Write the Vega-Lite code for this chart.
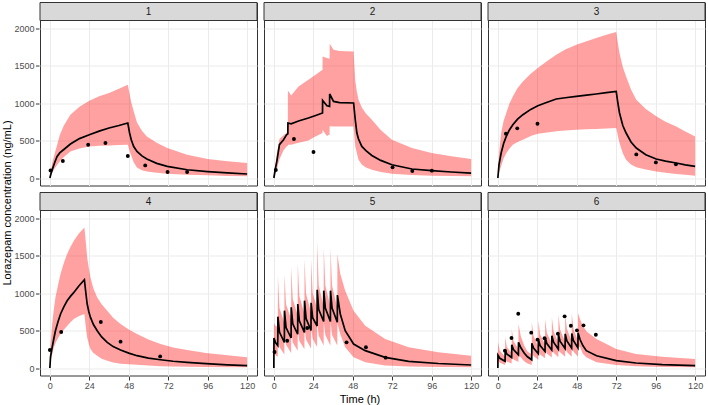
{
  "$schema": "https://vega.github.io/schema/vega-lite/v6.json",
  "padding": {"left": 1, "top": 1.5, "right": 3, "bottom": 2},
  "title": {"text": "Lorazepam concentration (ng/mL)", "orient": "left", "anchor": "middle", "fontSize": 11, "fontWeight": "normal", "color": "#000000", "offset": 1},
  "datasets": {
    "d": [
      {"k":"strip","p":"1"},{"k":"strip","p":"2"},{"k":"strip","p":"3"},{"k":"strip","p":"4"},{"k":"strip","p":"5"},{"k":"strip","p":"6"},

      {"k":"obs","p":"1","t":0.4,"c":101},{"k":"obs","p":"1","t":7.9,"c":227},{"k":"obs","p":"1","t":23.3,"c":444},{"k":"obs","p":"1","t":33.8,"c":467},{"k":"obs","p":"1","t":47.4,"c":293},{"k":"obs","p":"1","t":58,"c":168},{"k":"obs","p":"1","t":71.6,"c":80},{"k":"obs","p":"1","t":83.5,"c":80},
      {"k":"obs","p":"2","t":1.2,"c":107},{"k":"obs","p":"2","t":12.2,"c":520},{"k":"obs","p":"2","t":24.1,"c":347},{"k":"obs","p":"2","t":72.2,"c":142},{"k":"obs","p":"2","t":84.2,"c":93},{"k":"obs","p":"2","t":96.1,"c":98},
      {"k":"obs","p":"3","t":4.9,"c":591},{"k":"obs","p":"3","t":11.8,"c":662},{"k":"obs","p":"3","t":24.1,"c":724},{"k":"obs","p":"3","t":84.2,"c":315},{"k":"obs","p":"3","t":96.1,"c":208},{"k":"obs","p":"3","t":108.3,"c":182},
      {"k":"obs","p":"4","t":0,"c":240},{"k":"obs","p":"4","t":6.9,"c":480},{"k":"obs","p":"4","t":31,"c":613},{"k":"obs","p":"4","t":43,"c":351},{"k":"obs","p":"4","t":67.1,"c":155},
      {"k":"obs","p":"5","t":0.4,"c":213},{"k":"obs","p":"5","t":8.1,"c":364},{"k":"obs","p":"5","t":20.3,"c":533},{"k":"obs","p":"5","t":44.2,"c":342},{"k":"obs","p":"5","t":56,"c":276},{"k":"obs","p":"5","t":68,"c":138},
      {"k":"obs","p":"6","t":4.3,"c":231},{"k":"obs","p":"6","t":8.3,"c":400},{"k":"obs","p":"6","t":12.4,"c":724},{"k":"obs","p":"6","t":20.3,"c":471},{"k":"obs","p":"6","t":24.1,"c":378},{"k":"obs","p":"6","t":28.4,"c":396},{"k":"obs","p":"6","t":36.5,"c":458},{"k":"obs","p":"6","t":40.6,"c":689},{"k":"obs","p":"6","t":44.4,"c":564},{"k":"obs","p":"6","t":48.1,"c":502},{"k":"obs","p":"6","t":52.1,"c":569},{"k":"obs","p":"6","t":59.6,"c":444},

      {"k":"pred","p":"1","t":0,"lo":0,"m":0,"hi":0},
      {"k":"pred","p":"1","t":0.7,"lo":40,"m":60,"hi":110},
      {"k":"pred","p":"1","t":1.5,"lo":75,"m":115,"hi":210},
      {"k":"pred","p":"1","t":3,"lo":130,"m":210,"hi":330},
      {"k":"pred","p":"1","t":4.4,"lo":175,"m":288,"hi":440},
      {"k":"pred","p":"1","t":6,"lo":220,"m":335,"hi":570},
      {"k":"pred","p":"1","t":8.5,"lo":280,"m":380,"hi":700},
      {"k":"pred","p":"1","t":12.5,"lo":355,"m":453,"hi":844},
      {"k":"pred","p":"1","t":18,"lo":395,"m":525,"hi":950},
      {"k":"pred","p":"1","t":24,"lo":421,"m":577,"hi":1031},
      {"k":"pred","p":"1","t":30,"lo":430,"m":625,"hi":1090},
      {"k":"pred","p":"1","t":36,"lo":435,"m":667,"hi":1133},
      {"k":"pred","p":"1","t":42,"lo":440,"m":700,"hi":1190},
      {"k":"pred","p":"1","t":47.4,"lo":444,"m":733,"hi":1244},
      {"k":"pred","p":"1","t":48.5,"lo":360,"m":600,"hi":1120},
      {"k":"pred","p":"1","t":49.5,"lo":300,"m":510,"hi":1010},
      {"k":"pred","p":"1","t":51,"lo":210,"m":420,"hi":890},
      {"k":"pred","p":"1","t":53,"lo":140,"m":355,"hi":740},
      {"k":"pred","p":"1","t":56,"lo":105,"m":295,"hi":630},
      {"k":"pred","p":"1","t":59,"lo":88,"m":253,"hi":555},
      {"k":"pred","p":"1","t":65,"lo":70,"m":195,"hi":470},
      {"k":"pred","p":"1","t":71.4,"lo":57,"m":155,"hi":400},
      {"k":"pred","p":"1","t":83.5,"lo":45,"m":110,"hi":311},
      {"k":"pred","p":"1","t":96,"lo":37,"m":86,"hi":253},
      {"k":"pred","p":"1","t":108,"lo":28,"m":68,"hi":222},
      {"k":"pred","p":"1","t":120,"lo":22,"m":53,"hi":200},

      {"k":"pred","p":"2","t":0,"lo":0,"m":0,"hi":0},
      {"k":"pred","p":"2","t":0.8,"lo":50,"m":110,"hi":150},
      {"k":"pred","p":"2","t":1.8,"lo":110,"m":222,"hi":320},
      {"k":"pred","p":"2","t":3.4,"lo":250,"m":444,"hi":520},
      {"k":"pred","p":"2","t":5.9,"lo":370,"m":511,"hi":570},
      {"k":"pred","p":"2","t":7.7,"lo":421,"m":577,"hi":600},
      {"k":"pred","p":"2","t":8.5,"lo":430,"m":590,"hi":610},
      {"k":"pred","p":"2","t":8.55,"lo":444,"m":733,"hi":1168},
      {"k":"pred","p":"2","t":10.5,"lo":444,"m":722,"hi":1100},
      {"k":"pred","p":"2","t":15,"lo":470,"m":760,"hi":1220},
      {"k":"pred","p":"2","t":21,"lo":500,"m":800,"hi":1311},
      {"k":"pred","p":"2","t":25,"lo":550,"m":830,"hi":1370},
      {"k":"pred","p":"2","t":29.6,"lo":600,"m":867,"hi":1444},
      {"k":"pred","p":"2","t":29.65,"lo":640,"m":1035,"hi":1621},
      {"k":"pred","p":"2","t":32.3,"lo":560,"m":964,"hi":1600},
      {"k":"pred","p":"2","t":33.9,"lo":580,"m":955,"hi":1590},
      {"k":"pred","p":"2","t":33.95,"lo":690,"m":1120,"hi":1791},
      {"k":"pred","p":"2","t":36.3,"lo":688,"m":1021,"hi":1711},
      {"k":"pred","p":"2","t":40,"lo":688,"m":1005,"hi":1695},
      {"k":"pred","p":"2","t":48.5,"lo":688,"m":1000,"hi":1688},
      {"k":"pred","p":"2","t":49.5,"lo":420,"m":780,"hi":1300},
      {"k":"pred","p":"2","t":50.5,"lo":330,"m":600,"hi":1150},
      {"k":"pred","p":"2","t":51.5,"lo":244,"m":520,"hi":1044},
      {"k":"pred","p":"2","t":53.5,"lo":180,"m":421,"hi":940},
      {"k":"pred","p":"2","t":56,"lo":140,"m":365,"hi":860},
      {"k":"pred","p":"2","t":59.6,"lo":110,"m":301,"hi":777},
      {"k":"pred","p":"2","t":65,"lo":80,"m":235,"hi":640},
      {"k":"pred","p":"2","t":71.8,"lo":57,"m":177,"hi":511},
      {"k":"pred","p":"2","t":84,"lo":40,"m":120,"hi":400},
      {"k":"pred","p":"2","t":96,"lo":31,"m":98,"hi":333},
      {"k":"pred","p":"2","t":108,"lo":26,"m":80,"hi":290},
      {"k":"pred","p":"2","t":120,"lo":22,"m":65,"hi":253},

      {"k":"pred","p":"3","t":0,"lo":0,"m":0,"hi":0},
      {"k":"pred","p":"3","t":0.7,"lo":70,"m":180,"hi":330},
      {"k":"pred","p":"3","t":2,"lo":160,"m":333,"hi":600},
      {"k":"pred","p":"3","t":3.5,"lo":260,"m":460,"hi":760},
      {"k":"pred","p":"3","t":5.1,"lo":330,"m":555,"hi":867},
      {"k":"pred","p":"3","t":7,"lo":390,"m":640,"hi":990},
      {"k":"pred","p":"3","t":9.1,"lo":444,"m":711,"hi":1088},
      {"k":"pred","p":"3","t":12,"lo":480,"m":785,"hi":1200},
      {"k":"pred","p":"3","t":15.2,"lo":511,"m":844,"hi":1288},
      {"k":"pred","p":"3","t":20,"lo":560,"m":915,"hi":1390},
      {"k":"pred","p":"3","t":24.3,"lo":591,"m":964,"hi":1467},
      {"k":"pred","p":"3","t":30,"lo":608,"m":1010,"hi":1560},
      {"k":"pred","p":"3","t":35.5,"lo":622,"m":1053,"hi":1644},
      {"k":"pred","p":"3","t":41,"lo":633,"m":1070,"hi":1715},
      {"k":"pred","p":"3","t":47.7,"lo":644,"m":1088,"hi":1777},
      {"k":"pred","p":"3","t":54,"lo":650,"m":1105,"hi":1825},
      {"k":"pred","p":"3","t":59.8,"lo":653,"m":1120,"hi":1866},
      {"k":"pred","p":"3","t":66,"lo":660,"m":1138,"hi":1910},
      {"k":"pred","p":"3","t":72,"lo":667,"m":1155,"hi":1946},
      {"k":"pred","p":"3","t":73,"lo":560,"m":1000,"hi":1800},
      {"k":"pred","p":"3","t":74,"lo":467,"m":867,"hi":1666},
      {"k":"pred","p":"3","t":76,"lo":330,"m":700,"hi":1480},
      {"k":"pred","p":"3","t":78,"lo":244,"m":600,"hi":1355},
      {"k":"pred","p":"3","t":81,"lo":180,"m":480,"hi":1180},
      {"k":"pred","p":"3","t":84.2,"lo":144,"m":400,"hi":1044},
      {"k":"pred","p":"3","t":90,"lo":112,"m":310,"hi":920},
      {"k":"pred","p":"3","t":96.3,"lo":88,"m":253,"hi":822},
      {"k":"pred","p":"3","t":102,"lo":70,"m":225,"hi":750},
      {"k":"pred","p":"3","t":108.5,"lo":55,"m":200,"hi":688},
      {"k":"pred","p":"3","t":114,"lo":42,"m":175,"hi":620},
      {"k":"pred","p":"3","t":120,"lo":31,"m":155,"hi":555},

      {"k":"pred","p":"4","t":0,"lo":0,"m":0,"hi":0},
      {"k":"pred","p":"4","t":0.4,"lo":80,"m":150,"hi":300},
      {"k":"pred","p":"4","t":1.4,"lo":180,"m":275,"hi":587},
      {"k":"pred","p":"4","t":2.4,"lo":275,"m":390,"hi":780},
      {"k":"pred","p":"4","t":3.4,"lo":330,"m":497,"hi":941},
      {"k":"pred","p":"4","t":5,"lo":400,"m":620,"hi":1110},
      {"k":"pred","p":"4","t":6.5,"lo":453,"m":720,"hi":1253},
      {"k":"pred","p":"4","t":8.5,"lo":510,"m":815,"hi":1400},
      {"k":"pred","p":"4","t":10.5,"lo":560,"m":897,"hi":1520},
      {"k":"pred","p":"4","t":12.5,"lo":610,"m":955,"hi":1615},
      {"k":"pred","p":"4","t":14.6,"lo":653,"m":1008,"hi":1697},
      {"k":"pred","p":"4","t":17.5,"lo":690,"m":1090,"hi":1790},
      {"k":"pred","p":"4","t":21,"lo":720,"m":1177,"hi":1875},
      {"k":"pred","p":"4","t":22,"lo":520,"m":980,"hi":1650},
      {"k":"pred","p":"4","t":22.7,"lo":408,"m":853,"hi":1475},
      {"k":"pred","p":"4","t":23.7,"lo":320,"m":750,"hi":1330},
      {"k":"pred","p":"4","t":24.7,"lo":253,"m":675,"hi":1208},
      {"k":"pred","p":"4","t":26.5,"lo":200,"m":580,"hi":1060},
      {"k":"pred","p":"4","t":28.8,"lo":164,"m":497,"hi":941},
      {"k":"pred","p":"4","t":31.5,"lo":125,"m":415,"hi":850},
      {"k":"pred","p":"4","t":34.9,"lo":97,"m":342,"hi":764},
      {"k":"pred","p":"4","t":38.5,"lo":75,"m":285,"hi":670},
      {"k":"pred","p":"4","t":43,"lo":58,"m":240,"hi":587},
      {"k":"pred","p":"4","t":48,"lo":50,"m":198,"hi":515},
      {"k":"pred","p":"4","t":53,"lo":44,"m":164,"hi":453},
      {"k":"pred","p":"4","t":60,"lo":32,"m":132,"hi":380},
      {"k":"pred","p":"4","t":67.3,"lo":25,"m":110,"hi":320},
      {"k":"pred","p":"4","t":75,"lo":20,"m":90,"hi":275},
      {"k":"pred","p":"4","t":83.5,"lo":16,"m":75,"hi":240},
      {"k":"pred","p":"4","t":95,"lo":13,"m":58,"hi":200},
      {"k":"pred","p":"4","t":108,"lo":11,"m":42,"hi":170},
      {"k":"pred","p":"4","t":120,"lo":9,"m":31,"hi":142},

      {"k":"pred","p":"5","t":0,"lo":0,"m":0,"hi":0},
      {"k":"pred","p":"5","t":0.05,"lo":200,"m":400,"hi":600},
      {"k":"pred","p":"5","t":1,"lo":170,"m":340,"hi":560},
      {"k":"pred","p":"5","t":2.4,"lo":150,"m":300,"hi":550},
      {"k":"pred","p":"5","t":2.45,"lo":450,"m":684,"hi":1231},
      {"k":"pred","p":"5","t":3.4,"lo":280,"m":480,"hi":800},
      {"k":"pred","p":"5","t":6.4,"lo":180,"m":340,"hi":600},
      {"k":"pred","p":"5","t":6.45,"lo":480,"m":764,"hi":1253},
      {"k":"pred","p":"5","t":7.4,"lo":310,"m":540,"hi":850},
      {"k":"pred","p":"5","t":10.5,"lo":200,"m":400,"hi":650},
      {"k":"pred","p":"5","t":10.55,"lo":500,"m":809,"hi":1351},
      {"k":"pred","p":"5","t":11.5,"lo":340,"m":590,"hi":920},
      {"k":"pred","p":"5","t":14.5,"lo":230,"m":450,"hi":700},
      {"k":"pred","p":"5","t":14.55,"lo":520,"m":853,"hi":1396},
      {"k":"pred","p":"5","t":15.5,"lo":360,"m":630,"hi":960},
      {"k":"pred","p":"5","t":18.6,"lo":250,"m":475,"hi":720},
      {"k":"pred","p":"5","t":18.65,"lo":540,"m":898,"hi":1453},
      {"k":"pred","p":"5","t":19.6,"lo":380,"m":660,"hi":990},
      {"k":"pred","p":"5","t":22.6,"lo":260,"m":500,"hi":740},
      {"k":"pred","p":"5","t":22.65,"lo":540,"m":870,"hi":1450},
      {"k":"pred","p":"5","t":23.6,"lo":390,"m":670,"hi":1000},
      {"k":"pred","p":"5","t":26.3,"lo":280,"m":560,"hi":800},
      {"k":"pred","p":"5","t":26.35,"lo":620,"m":1044,"hi":1689},
      {"k":"pred","p":"5","t":27.3,"lo":430,"m":780,"hi":1100},
      {"k":"pred","p":"5","t":30.3,"lo":300,"m":620,"hi":820},
      {"k":"pred","p":"5","t":30.35,"lo":620,"m":1031,"hi":1600},
      {"k":"pred","p":"5","t":31.3,"lo":440,"m":800,"hi":1100},
      {"k":"pred","p":"5","t":34.4,"lo":300,"m":620,"hi":820},
      {"k":"pred","p":"5","t":34.45,"lo":620,"m":1031,"hi":1600},
      {"k":"pred","p":"5","t":35.4,"lo":440,"m":800,"hi":1100},
      {"k":"pred","p":"5","t":38.6,"lo":300,"m":610,"hi":800},
      {"k":"pred","p":"5","t":38.65,"lo":600,"m":973,"hi":1520},
      {"k":"pred","p":"5","t":40.4,"lo":450,"m":720,"hi":1253},
      {"k":"pred","p":"5","t":43.4,"lo":276,"m":498,"hi":1031},
      {"k":"pred","p":"5","t":48.5,"lo":142,"m":320,"hi":764},
      {"k":"pred","p":"5","t":55.6,"lo":76,"m":231,"hi":564},
      {"k":"pred","p":"5","t":67.7,"lo":35,"m":142,"hi":387},
      {"k":"pred","p":"5","t":82,"lo":20,"m":89,"hi":276},
      {"k":"pred","p":"5","t":100,"lo":13,"m":60,"hi":210},
      {"k":"pred","p":"5","t":120,"lo":9,"m":40,"hi":164},

      {"k":"pred","p":"6","t":0,"lo":0,"m":0,"hi":0},
      {"k":"pred","p":"6","t":0.05,"lo":100,"m":170,"hi":342},
      {"k":"pred","p":"6","t":1.2,"lo":70,"m":130,"hi":230},
      {"k":"pred","p":"6","t":4.4,"lo":40,"m":90,"hi":150},
      {"k":"pred","p":"6","t":4.45,"lo":120,"m":240,"hi":409},
      {"k":"pred","p":"6","t":5.5,"lo":85,"m":185,"hi":280},
      {"k":"pred","p":"6","t":8.4,"lo":60,"m":140,"hi":200},
      {"k":"pred","p":"6","t":8.45,"lo":160,"m":311,"hi":520},
      {"k":"pred","p":"6","t":9.5,"lo":115,"m":245,"hi":360},
      {"k":"pred","p":"6","t":12.5,"lo":80,"m":175,"hi":250},
      {"k":"pred","p":"6","t":12.55,"lo":180,"m":342,"hi":587},
      {"k":"pred","p":"6","t":14,"lo":140,"m":270,"hi":420},
      {"k":"pred","p":"6","t":16,"lo":90,"m":200,"hi":300},
      {"k":"pred","p":"6","t":18,"lo":60,"m":150,"hi":220},
      {"k":"pred","p":"6","t":20.6,"lo":40,"m":110,"hi":180},
      {"k":"pred","p":"6","t":20.65,"lo":200,"m":330,"hi":609},
      {"k":"pred","p":"6","t":21.7,"lo":160,"m":265,"hi":430},
      {"k":"pred","p":"6","t":24.6,"lo":110,"m":190,"hi":280},
      {"k":"pred","p":"6","t":24.65,"lo":230,"m":380,"hi":631},
      {"k":"pred","p":"6","t":25.7,"lo":180,"m":300,"hi":450},
      {"k":"pred","p":"6","t":28.7,"lo":130,"m":220,"hi":310},
      {"k":"pred","p":"6","t":28.75,"lo":250,"m":410,"hi":653},
      {"k":"pred","p":"6","t":29.8,"lo":195,"m":325,"hi":470},
      {"k":"pred","p":"6","t":32.8,"lo":140,"m":240,"hi":330},
      {"k":"pred","p":"6","t":32.85,"lo":260,"m":430,"hi":676},
      {"k":"pred","p":"6","t":33.9,"lo":205,"m":345,"hi":490},
      {"k":"pred","p":"6","t":36.8,"lo":145,"m":250,"hi":340},
      {"k":"pred","p":"6","t":36.85,"lo":270,"m":445,"hi":711},
      {"k":"pred","p":"6","t":37.9,"lo":210,"m":355,"hi":510},
      {"k":"pred","p":"6","t":40.9,"lo":150,"m":260,"hi":350},
      {"k":"pred","p":"6","t":40.95,"lo":280,"m":455,"hi":720},
      {"k":"pred","p":"6","t":42,"lo":215,"m":360,"hi":520},
      {"k":"pred","p":"6","t":44.9,"lo":150,"m":265,"hi":360},
      {"k":"pred","p":"6","t":44.95,"lo":280,"m":460,"hi":729},
      {"k":"pred","p":"6","t":46,"lo":218,"m":365,"hi":525},
      {"k":"pred","p":"6","t":48.7,"lo":155,"m":270,"hi":360},
      {"k":"pred","p":"6","t":48.75,"lo":290,"m":470,"hi":729},
      {"k":"pred","p":"6","t":50,"lo":276,"m":380,"hi":650},
      {"k":"pred","p":"6","t":51.7,"lo":190,"m":300,"hi":564},
      {"k":"pred","p":"6","t":53.8,"lo":142,"m":231,"hi":490},
      {"k":"pred","p":"6","t":60,"lo":76,"m":164,"hi":387},
      {"k":"pred","p":"6","t":72,"lo":40,"m":98,"hi":253},
      {"k":"pred","p":"6","t":84,"lo":25,"m":67,"hi":187},
      {"k":"pred","p":"6","t":100,"lo":15,"m":45,"hi":150},
      {"k":"pred","p":"6","t":120,"lo":9,"m":31,"hi":120}
    ]
  },
  "hconcat": [
    {
      "data": {"name": "d"},
      "title": {"text": "Time (h)", "orient": "bottom", "anchor": "middle", "fontSize": 11, "fontWeight": "normal", "color": "#000000", "offset": 3},
      "facet": {"field": "p", "type": "ordinal", "title": null, "header": {"labels": false, "title": null, "labelFontSize": 0, "labelPadding": 0, "labelExpr": "''"}},
      "columns": 3,
      "spacing": 5,
      "spec": {
        "width": 217,
        "height": 183,
        "layer": [
          {
            "transform": [{"filter": "datum.k === 'pred'"}],
            "mark": {"type": "area", "color": "#FF0000", "opacity": 0.37},
            "encoding": {
              "x": {"field": "t", "type": "quantitative",
                "scale": {"domain": [-6, 126], "nice": false, "zero": false},
                "axis": {"title": null, "values": [0,12,24,36,48,60,72,84,96,108,120], "format": "d",
                  "labelExpr": "datum.value % 24 === 0 ? datum.label : ''",
                  "labelOverlap": false, "labelFlush": false,
                  "tickOpacity": {"condition": {"test": "datum.value % 24 === 0", "value": 1}, "value": 0},
                  "gridWidth": {"condition": {"test": "datum.value % 24 === 0", "value": 1}, "value": 0.5}}},
              "y": {"field": "lo", "type": "quantitative",
                "scale": {"domain": [-100, 2340], "nice": false, "zero": false},
                "axis": {"title": null, "values": [0,250,500,750,1000,1250,1500,1750,2000], "format": "d",
                  "labelExpr": "datum.value % 500 === 0 ? datum.label : ''",
                  "labelOverlap": false, "labelFlush": false,
                  "tickOpacity": {"condition": {"test": "datum.value % 500 === 0", "value": 1}, "value": 0},
                  "gridWidth": {"condition": {"test": "datum.value % 500 === 0", "value": 1}, "value": 0.5}}},
              "y2": {"field": "hi"}
            }
          },
          {
            "transform": [{"filter": "datum.k === 'pred'"}],
            "mark": {"type": "line", "color": "#000000", "strokeWidth": 1.7},
            "encoding": {
              "x": {"field": "t", "type": "quantitative"},
              "y": {"field": "m", "type": "quantitative"}
            }
          },
          {
            "transform": [{"filter": "datum.k === 'obs'"}],
            "mark": {"type": "circle", "color": "#000000", "opacity": 1, "size": 15},
            "encoding": {
              "x": {"field": "t", "type": "quantitative"},
              "y": {"field": "c", "type": "quantitative"}
            }
          },
          {
            "transform": [{"filter": "datum.k === 'strip'"}],
            "mark": {"type": "rect", "fill": "#D9D9D9", "stroke": "#333333", "strokeWidth": 1},
            "encoding": {
              "y": {"datum": 2100, "type": "quantitative"},
              "y2": {"datum": 2340}
            }
          },
          {
            "transform": [{"filter": "datum.k === 'strip'"}],
            "mark": {"type": "text", "fontSize": 10, "color": "#1A1A1A", "baseline": "middle"},
            "encoding": {
              "text": {"field": "p"},
              "y": {"datum": 2220, "type": "quantitative"}
            }
          }
        ]
      }
    }
  ],
  "config": {
    "font": "Liberation Sans",
    "view": {"stroke": "#333333", "strokeWidth": 1},
    "header": {"labels": false, "title": null, "labelPadding": 0, "labelFontSize": 0},
    "axis": {"domain": false, "labelFont": "Liberation Sans", "labelFontSize": 9, "labelColor": "#4D4D4D", "tickColor": "#333333", "tickSize": 3.5, "tickWidth": 1, "labelPadding": 1.5, "gridColor": "#EBEBEB"},
    "title": {"font": "Liberation Sans"}
  }
}
